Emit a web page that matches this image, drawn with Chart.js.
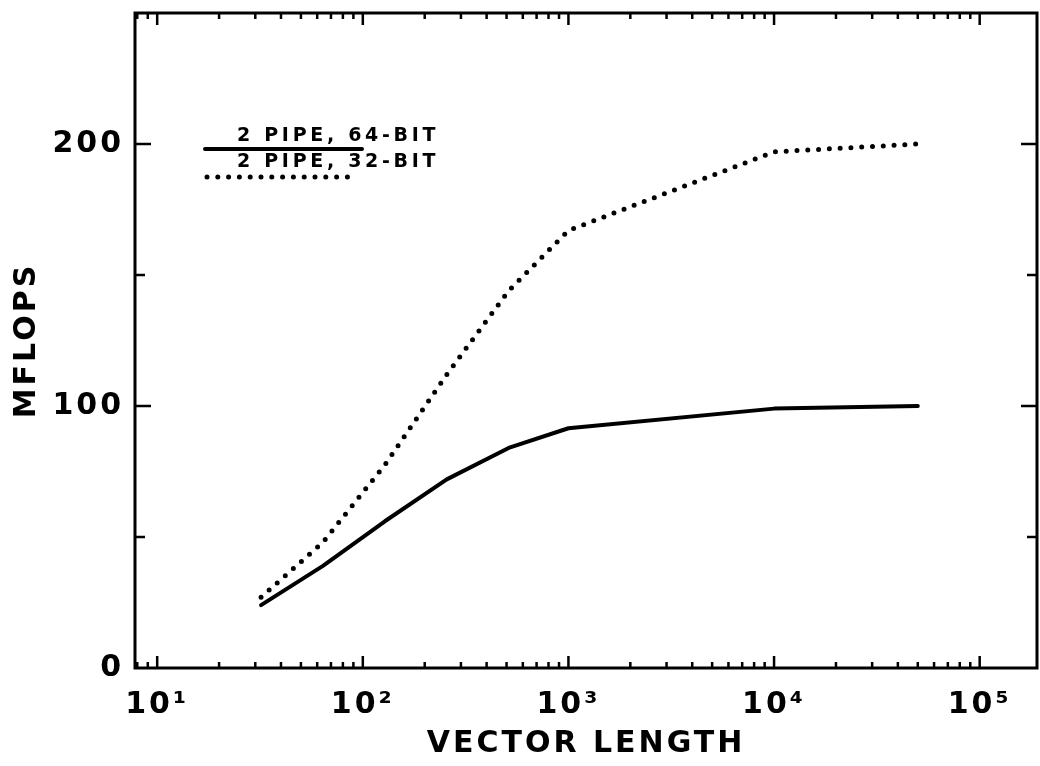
<!DOCTYPE html>
<html>
<head>
<meta charset="utf-8">
<script src="https://cdn.jsdelivr.net/npm/chart.js@4.4.1/dist/chart.umd.min.js"></script>
<style>
  html, body { margin: 0; padding: 0; background: #fff; }
  canvas { display: block; }
</style>
</head>
<body>
<canvas id="mflopsChart" width="1040" height="766"></canvas>
<script>
// values
const vectorLengths = [32, 64, 128, 256, 512, 1000, 10000, 50000];
const mflops64 = [24, 39, 56, 72, 84, 91.5, 99, 100];
const mflops32 = [27, 48, 77.5, 112, 144, 167, 197, 200];
const seriesLabels = ['2 PIPE, 64-BIT', '2 PIPE, 32-BIT'];
const xDecades = [10, 100, 1000, 10000, 100000];
const xTickLabels = ['10¹', '10²', '10³', '10⁴', '10⁵'];
const yTickLabels = [0, 100, 200];

const FONT = 'DejaVu Sans';
const ink = '#000';
const xMin = 7.8, xMax = 1.9e5;

const toPoints = ys => vectorLengths.map((x, i) => ({ x: x, y: ys[i] }));

// 1..9 x each decade, inside the axis range
const xTickValues = [];
[xDecades[0] / 10].concat(xDecades).forEach(d => {
    for (let m = 1; m <= 9; m++) {
        const v = m * d;
        if (v >= xMin && v <= xMax) xTickValues.push(v);
    }
});

// frame, inward ticks and the hand drawn legend
const plotterFrame = {
    id: 'plotterFrame',
    beforeLayout(chart) { chart.ctx.letterSpacing = '3px'; },
    beforeDraw(chart) { chart.ctx.letterSpacing = '3px'; },
    afterDraw(chart) {
        const { ctx, chartArea: a, scales: { x, y } } = chart;
        ctx.save();
        ctx.strokeStyle = ink;
        ctx.lineWidth = 3;
        ctx.strokeRect(a.left, a.top, a.right - a.left, a.bottom - a.top);

        ctx.beginPath();
        ctx.lineWidth = 2.5;
        x.ticks.forEach(t => {
            const px = x.getPixelForValue(t.value);
            const len = xDecades.includes(t.value) ? 12 : 6;
            ctx.moveTo(px, a.bottom); ctx.lineTo(px, a.bottom - len);
            ctx.moveTo(px, a.top); ctx.lineTo(px, a.top + len);
        });
        y.ticks.forEach(t => {
            if (t.value <= 0 || t.value >= 250) return;
            const py = y.getPixelForValue(t.value);
            const len = t.value % 100 === 0 ? 16 : 10;
            ctx.moveTo(a.left, py); ctx.lineTo(a.left + len, py);
            ctx.moveTo(a.right, py); ctx.lineTo(a.right - len, py);
        });
        ctx.stroke();

        // legend: label text with a sample of the line under it
        const rows = [
            { textY: 141, lineY: 149, x0: 205, x1: 362 },
            { textY: 167, lineY: 177, x0: 207, x1: 353 }
        ];
        ctx.font = 'bold 19px ' + FONT;
        ctx.letterSpacing = '3.7px';
        ctx.fillStyle = ink;
        ctx.textBaseline = 'alphabetic';
        chart.data.datasets.forEach((ds, i) => {
            const r = rows[i];
            ctx.fillText(ds.label, 237, r.textY);
            ctx.beginPath();
            ctx.lineWidth = ds.borderWidth;
            ctx.lineCap = ds.borderCapStyle || 'butt';
            ctx.setLineDash(ds.borderDash || []);
            ctx.moveTo(r.x0, r.lineY);
            ctx.lineTo(r.x1, r.lineY);
            ctx.stroke();
        });
        ctx.restore();
    }
};

const axisFont = { family: FONT, size: 30, weight: 'bold' };

const ctx = document.getElementById('mflopsChart').getContext('2d');
new Chart(ctx, {
    type: 'line',
    data: {
        datasets: [{
            label: seriesLabels[0],
            data: toPoints(mflops64),
            borderColor: ink,
            borderWidth: 4,
            borderCapStyle: 'round',
            borderJoinStyle: 'round',
            pointRadius: 0,
            tension: 0
        }, {
            label: seriesLabels[1],
            data: toPoints(mflops32),
            borderColor: ink,
            borderWidth: 5,
            borderDash: [0, 10.8],
            borderCapStyle: 'round',
            pointRadius: 0,
            tension: 0
        }]
    },
    options: {
        responsive: false,
        animation: false,
        layout: { padding: { top: 13, right: 3, left: 0, bottom: 0 } },
        plugins: {
            legend: { display: false },
            tooltip: { enabled: false }
        },
        scales: {
            x: {
                type: 'logarithmic',
                min: xMin,
                max: xMax,
                grid: { display: false },
                border: { display: false },
                afterBuildTicks: s => { s.ticks = xTickValues.map(v => ({ value: v })); },
                afterFit: s => { s.height = 98; s.paddingLeft = 0; s.paddingRight = 0; },
                ticks: {
                    autoSkip: false,
                    maxRotation: 0,
                    minRotation: 0,
                    padding: 11,
                    color: ink,
                    font: axisFont,
                    callback: v => {
                        const i = xDecades.indexOf(v);
                        return i >= 0 ? xTickLabels[i] : '';
                    }
                },
                title: {
                    display: true,
                    text: 'VECTOR LENGTH',
                    color: ink,
                    font: axisFont,
                    padding: { top: 0, bottom: 4 }
                }
            },
            y: {
                min: 0,
                max: 250,
                grid: { display: false },
                border: { display: false },
                afterFit: s => { s.width = 135; s.paddingTop = 0; s.paddingBottom = 0; },
                ticks: {
                    stepSize: 50,
                    padding: 3,
                    color: ink,
                    font: axisFont,
                    callback: v => yTickLabels.includes(v) ? String(v) : ''
                },
                title: {
                    display: true,
                    text: 'MFLOPS',
                    color: ink,
                    font: axisFont,
                    padding: { top: 9, bottom: 0 }
                }
            }
        }
    },
    plugins: [plotterFrame]
});
</script>
</body>
</html>
